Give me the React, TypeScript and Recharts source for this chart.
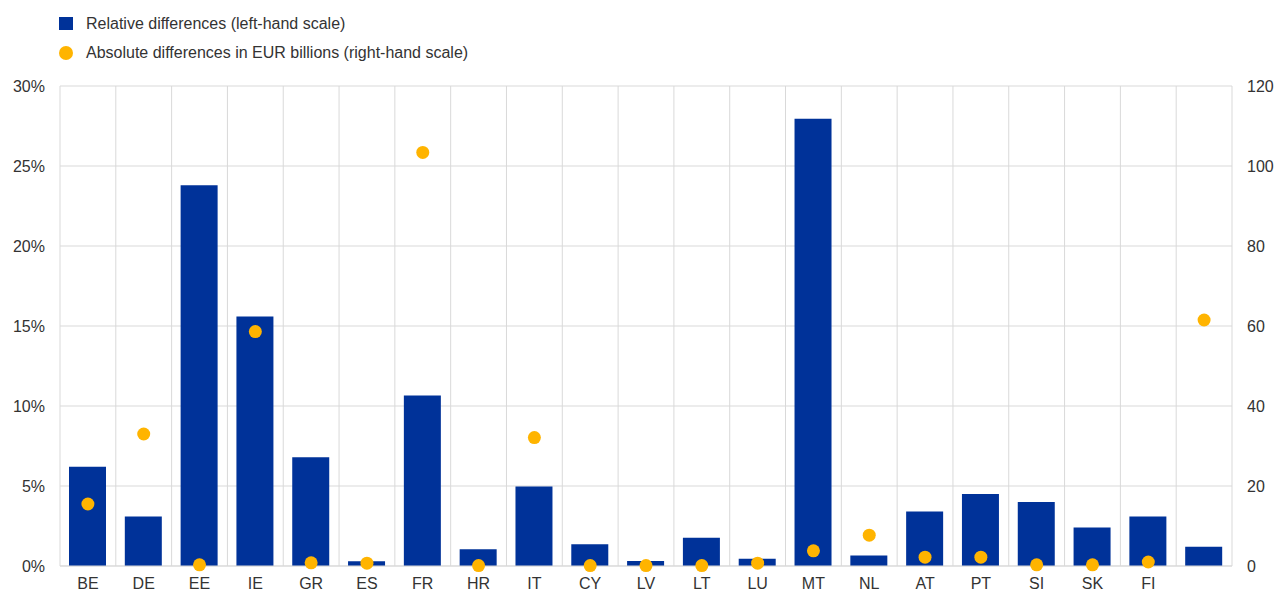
import React from "react";
import {
  ComposedChart,
  Bar,
  Scatter,
  XAxis,
  YAxis,
  CartesianGrid,
} from "recharts";

const categories = ["BE", "DE", "EE", "IE", "GR", "ES", "FR", "HR", "IT", "CY", "LV", "LT", "LU", "MT", "NL", "AT", "PT", "SI", "SK", "FI", ""];
const relativeDiff = [6.2, 3.1, 23.8, 15.6, 6.8, 0.3, 10.65, 1.05, 4.97, 1.36, 0.31, 1.77, 0.45, 27.95, 0.65, 3.4, 4.5, 4.0, 2.4, 3.1, 1.2];
const absoluteDiff = [15.5, 33, 0.3, 58.6, 0.8, 0.7, 103.4, 0.1, 32.1, 0.1, 0.1, 0.1, 0.7, 3.8, 7.7, 2.2, 2.2, 0.3, 0.3, 1.0, 61.5];
const leftTicks = [0, 5, 10, 15, 20, 25, 30];
const rightTicks = [0, 20, 40, 60, 80, 100, 120];
const seriesNames = ["Relative differences (left-hand scale)", "Absolute differences in EUR billions (right-hand scale)"];

const BLUE = "#003299";
const YELLOW = "#FFB400";
const TEXT = "#333333";
const GRID = "#d9d9d9";
const FONT = "'Liberation Sans', Arial, sans-serif";

const data = categories.map((c, i) => ({ cat: c, rel: relativeDiff[i], abs: absoluteDiff[i] }));

const LegendBlock = () => (
  <div style={{ position: "absolute", left: 0, top: 9, fontFamily: FONT, fontSize: 16, color: TEXT, zIndex: 2 }}>
    <div style={{ display: "flex", alignItems: "center", height: 29 }}>
      <span style={{ display: "inline-block", width: 14, height: 13, background: BLUE, marginLeft: 59, marginRight: 13 }} />
      <span>{seriesNames[0]}</span>
    </div>
    <div style={{ display: "flex", alignItems: "center", height: 29 }}>
      <span style={{ display: "inline-block", width: 14, height: 14, borderRadius: 7, background: YELLOW, marginLeft: 59, marginRight: 13 }} />
      <span>{seriesNames[1]}</span>
    </div>
  </div>
);

const Dot = (props: any) => {
  const { cx, cy } = props;
  if (cx == null || cy == null) return null;
  return <circle cx={cx} cy={cy} r={6.5} fill={YELLOW} />;
};

export default function App() {
  const n = categories.length;
  return (
    <div style={{ position: "absolute", left: 0, top: 0, width: 1276, height: 592, background: "#fff" }}>
      <LegendBlock />
      <ComposedChart
        width={1276}
        height={592}
        data={data}
        margin={{ top: 86, right: 0, bottom: 0, left: 0 }}
        barSize={37}
      >
        <CartesianGrid
          yAxisId="left"
          stroke={GRID}
          strokeWidth={1}
          verticalCoordinatesGenerator={({ offset }: any) =>
            Array.from({ length: n + 1 }, (_, i) => offset.left + (i * offset.width) / n)
          }
        />
        <XAxis
          dataKey="cat"
          height={26}
          tickLine={false}
          axisLine={{ stroke: GRID }}
          tickSize={0}
          tickMargin={12}
          interval={0}
          tick={{ fill: TEXT, fontSize: 16, fontFamily: FONT }}
        />
        <YAxis
          yAxisId="left"
          orientation="left"
          width={60}
          domain={[0, 30]}
          ticks={leftTicks}
          tickFormatter={(v: number) => `${v}%`}
          axisLine={false}
          tickLine={false}
          tickSize={0}
          tickMargin={15}
          tick={{ fill: TEXT, fontSize: 16, fontFamily: FONT }}
        />
        <YAxis
          yAxisId="right"
          orientation="right"
          width={44}
          domain={[0, 120]}
          ticks={rightTicks}
          axisLine={false}
          tickLine={false}
          tickSize={0}
          tickMargin={15}
          tick={{ fill: TEXT, fontSize: 16, fontFamily: FONT, textAnchor: "start" }}
        />
        <Bar yAxisId="left" dataKey="rel" name={seriesNames[0]} fill={BLUE} isAnimationActive={false} />
        <Scatter yAxisId="right" dataKey="abs" name={seriesNames[1]} fill={YELLOW} shape={<Dot />} isAnimationActive={false} />
      </ComposedChart>
    </div>
  );
}
